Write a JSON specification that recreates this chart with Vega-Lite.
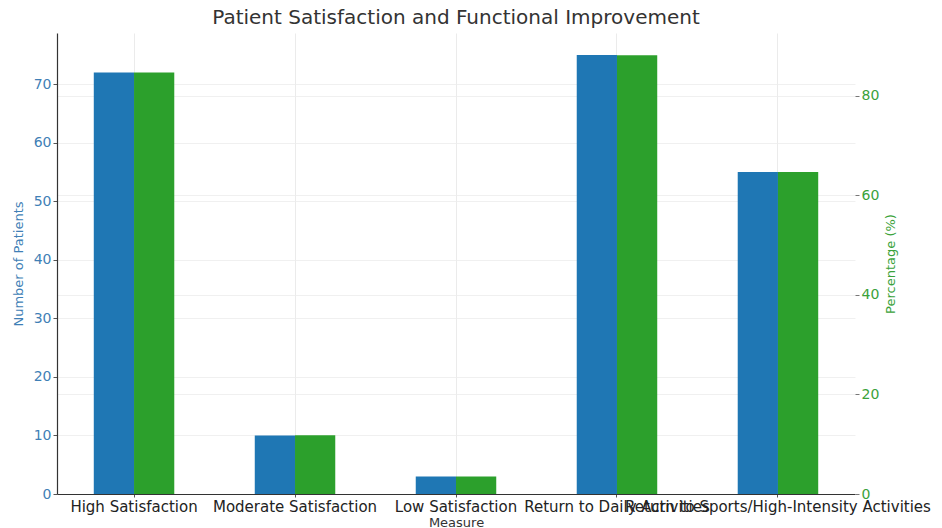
{
  "$schema": "https://vega.github.io/schema/vega-lite/v6.json",
  "width": 798,
  "height": 461,
  "autosize": {"type": "none"},
  "padding": {"left": 57, "top": 33, "right": 87, "bottom": 34},
  "background": "white",
  "config": {
    "font": "DejaVu Sans",
    "view": {"stroke": null},
    "axis": {"labelFont": "DejaVu Sans", "titleFont": "DejaVu Sans", "titleFontWeight": "normal"}
  },
  "title": {
    "text": "Patient Satisfaction and Functional Improvement",
    "fontSize": 20,
    "fontWeight": "normal",
    "color": "#333333",
    "anchor": "middle",
    "offset": 5
  },
  "data": {
    "values": [
      {"measure": "High Satisfaction", "patients": 72, "percentage": 84.7},
      {"measure": "Moderate Satisfaction", "patients": 10, "percentage": 11.8},
      {"measure": "Low Satisfaction", "patients": 3, "percentage": 3.5},
      {"measure": "Return to Daily Activities", "patients": 75, "percentage": 88.2},
      {"measure": "Return to Sports/High-Intensity Activities", "patients": 55, "percentage": 64.7}
    ]
  },
  "encoding": {
    "x": {
      "field": "measure",
      "type": "nominal",
      "sort": null,
      "scale": {"paddingInner": 0.5, "paddingOuter": 0.2285},
      "axis": {
        "title": "Measure",
        "titleFontSize": 13,
        "titleColor": "#333333",
        "titlePadding": 2,
        "labelAngle": 0,
        "labelFontSize": 15,
        "labelColor": "#222222",
        "labelOverlap": false,
        "labelLimit": 0,
        "labelPadding": 2,
        "tickColor": "#555555",
        "tickSize": 3,
        "domainColor": "#333333",
        "domainWidth": 1.2,
        "grid": true,
        "gridColor": "#e6e6e6",
        "gridWidth": 0.8
      }
    }
  },
  "layer": [
    {
      "mark": {"type": "bar"},
      "encoding": {
        "xOffset": {
          "datum": "Number of Patients",
          "scale": {"domain": ["Number of Patients", "Percentage (%)"], "paddingInner": 0, "paddingOuter": 0}
        },
        "y": {
          "field": "patients",
          "type": "quantitative",
          "scale": {"domain": [0, 78.75], "nice": false, "zero": true},
          "axis": {
            "title": "Number of Patients",
            "titleColor": "#3f7fb6",
            "titleFontSize": 13,
            "titlePadding": 8,
            "values": [0, 10, 20, 30, 40, 50, 60, 70],
            "labelColor": "#3f7fb6",
            "labelFontSize": 14,
            "tickColor": "#555555",
            "tickSize": 4,
            "domainColor": "#333333",
            "domainWidth": 1.2,
            "grid": true,
            "gridColor": "#ececec",
            "gridWidth": 0.8
          }
        },
        "color": {"value": "#1f77b4"}
      }
    },
    {
      "mark": {"type": "bar"},
      "encoding": {
        "xOffset": {
          "datum": "Percentage (%)",
          "scale": {"domain": ["Number of Patients", "Percentage (%)"], "paddingInner": 0, "paddingOuter": 0}
        },
        "y": {
          "field": "percentage",
          "type": "quantitative",
          "scale": {"domain": [0, 92.65], "nice": false, "zero": true},
          "axis": {
            "orient": "right",
            "title": "Percentage (%)",
            "titleAngle": 270,
            "titleBaseline": "top",
            "titleColor": "#3aa23a",
            "titleFontSize": 13,
            "titlePadding": 6,
            "values": [0, 20, 40, 60, 80],
            "labelColor": "#3aa23a",
            "labelFontSize": 14,
            "tickColor": "#777777",
            "tickSize": 4,
            "domain": false,
            "grid": true,
            "gridColor": "#ececec",
            "gridWidth": 0.8
          }
        },
        "color": {"value": "#2ca02c"}
      }
    }
  ],
  "resolve": {"scale": {"y": "independent"}, "axis": {"y": "independent"}}
}
